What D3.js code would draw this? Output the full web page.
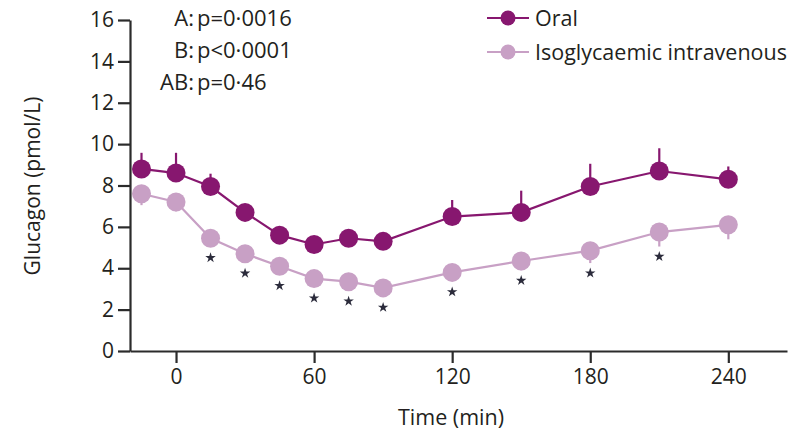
<!DOCTYPE html>
<html>
<head>
<meta charset="utf-8">
<script src="https://cdn.jsdelivr.net/npm/d3@7"></script>
<style>
	body { margin: 0; background: #fff; }
	text { font-family: "Open Sans", sans-serif; fill: #231f20; }
</style>
</head>
<body>
<svg id="chart" width="796" height="432"></svg>
<script>
// Time points (min)
const times = [-15, 0, 15, 30, 45, 60, 75, 90, 120, 150, 180, 210, 240];

// Oral glucose: mean and upper error (SEM)
const oralMean = [8.8, 8.6, 7.95, 6.7, 5.6, 5.15, 5.45, 5.3, 6.5, 6.7, 7.95, 8.7, 8.3];
const oralSem = [0.78, 0.98, 0.62, 0.3, 0.3, 0.3, 0.3, 0.3, 0.8, 1.05, 1.1, 1.1, 0.62];

// Isoglycaemic intravenous: mean and lower error (SEM)
const ivMean = [7.6, 7.2, 5.45, 4.7, 4.1, 3.5, 3.35, 3.05, 3.8, 4.35, 4.85, 5.75, 6.1];
const ivSem = [0.55, 0.45, 0.3, 0.3, 0.3, 0.3, 0.3, 0.3, 0.3, 0.45, 0.6, 0.7, 0.7];

// Time points marked with an asterisk
const starTimes = [15, 30, 45, 60, 75, 90, 120, 150, 180, 210];

const xTicks = [0, 60, 120, 180, 240];
const yTicks = [0, 2, 4, 6, 8, 10, 12, 14, 16];

const stats = [
	["A:", "p=0·0016"],
	["B:", "p<0·0001"],
	["AB:", "p=0·46"]
];

const seriesNames = ["Oral", "Isoglycaemic intravenous"];
const colors = { oral: "#87176f", iv: "#c8a0c5" };
const axisColor = "#2b2b2b";
const r = 9.5;

const svg = d3.select("#chart");

const x = d3.scaleLinear().domain([-20, 265.5]).range([130, 787]);
const y = d3.scaleLinear().domain([0, 16]).range([351, 20]);

// Axes
const yAxis = svg.append("g")
	.attr("transform", "translate(130,0)")
	.call(d3.axisLeft(y).tickValues(yTicks).tickSize(12).tickPadding(4).tickSizeOuter(0));
const xAxis = svg.append("g")
	.attr("transform", "translate(0,351)")
	.call(d3.axisBottom(x).tickValues(xTicks).tickSize(12).tickPadding(6).tickSizeOuter(0));

[xAxis, yAxis].forEach(a => {
	a.selectAll("path, line").attr("stroke", axisColor).attr("stroke-width", 2.2);
	a.selectAll("text").style("font-size", "21px").attr("fill", "#231f20");
});

// Axis titles
svg.append("text")
	.attr("x", 451)
	.attr("y", 425)
	.attr("text-anchor", "middle")
	.style("font-size", "21.5px")
	.text("Time (min)");

svg.append("text")
	.attr("transform", "translate(40,186) rotate(-90)")
	.attr("text-anchor", "middle")
	.style("font-size", "21px")
	.text("Glucagon (pmol/L)");

// Stats text, aligned on the colon
const gStats = svg.append("g");
stats.forEach((s, i) => {
	gStats.append("text")
		.attr("x", 194)
		.attr("y", 26 + i * 32)
		.attr("text-anchor", "end")
		.style("font-size", "22px")
		.text(s[0]);
	gStats.append("text")
		.attr("x", 197)
		.attr("y", 26 + i * 32)
		.style("font-size", "22px")
		.text(s[1]);
});

const line = d3.line()
	.x(d => x(d.t))
	.y(d => y(d.v));

const oralData = times.map((t, i) => ({ t, v: oralMean[i], e: oralSem[i] }));
const ivData = times.map((t, i) => ({ t, v: ivMean[i], e: ivSem[i] }));

function drawSeries(data, color, dir) {
	const g = svg.append("g");
	g.append("path")
		.datum(data)
		.attr("d", line)
		.attr("fill", "none")
		.attr("stroke", color)
		.attr("stroke-width", 2.2);

	// one sided error bars
	g.selectAll("line.err")
		.data(data)
		.enter()
		.append("line")
		.attr("class", "err")
		.attr("x1", d => x(d.t))
		.attr("x2", d => x(d.t))
		.attr("y1", d => y(d.v))
		.attr("y2", d => y(d.v + dir * d.e))
		.attr("stroke", color)
		.attr("stroke-width", 2.2);

	g.selectAll("circle")
		.data(data)
		.enter()
		.append("circle")
		.attr("cx", d => x(d.t))
		.attr("cy", d => y(d.v))
		.attr("r", r)
		.attr("fill", color);
}

drawSeries(ivData, colors.iv, -1);
drawSeries(oralData, colors.oral, 1);

// Asterisks below the intravenous points
const starSym = d3.symbol().type(d3.symbolStar).size(34);
svg.append("g")
	.selectAll("path")
	.data(ivData.filter(d => starTimes.includes(d.t)))
	.enter()
	.append("path")
	.attr("d", starSym)
	.attr("fill", "#2b2b3b")
	.attr("transform", d => {
		const yy = Math.max(y(d.v - d.e), y(d.v) + r) + 10;
		return "translate(" + x(d.t) + "," + yy + ")";
	});

// Legend
const legend = svg.append("g").attr("transform", "translate(487,0)");
[colors.oral, colors.iv].forEach((c, i) => {
	const ly = 18 + i * 34;
	legend.append("line")
		.attr("x1", 0).attr("x2", 42)
		.attr("y1", ly).attr("y2", ly)
		.attr("stroke", c)
		.attr("stroke-width", 2.2);
	legend.append("circle")
		.attr("cx", 21).attr("cy", ly)
		.attr("r", 7.5)
		.attr("fill", c);
	legend.append("text")
		.attr("x", 48)
		.attr("y", ly + 7.5)
		.style("font-size", "21.5px")
		.text(seriesNames[i]);
});
</script>
</body>
</html>
